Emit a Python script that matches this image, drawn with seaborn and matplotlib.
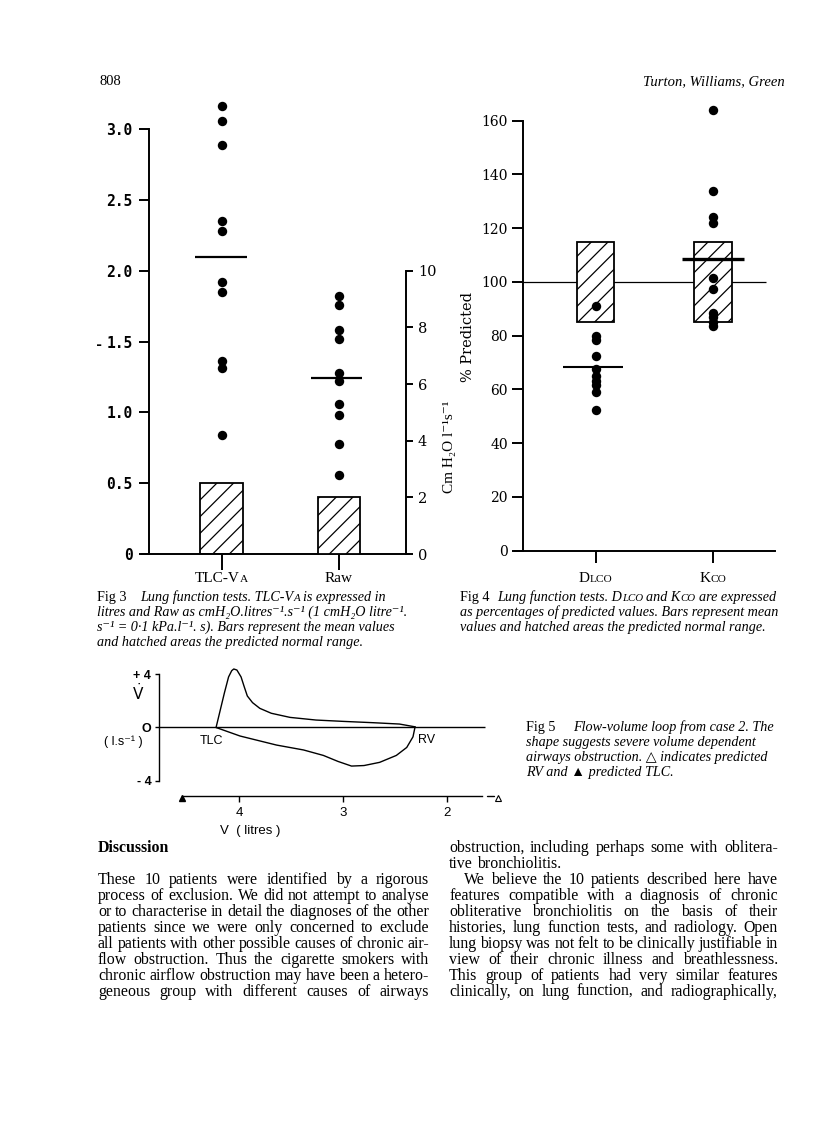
import matplotlib
matplotlib.use("Agg")
import matplotlib.pyplot as plt
import matplotlib.transforms as mtransforms
import pandas as pd
import seaborn as sns

W, H = 816, 1121

# Fig 3 - TLC-VA in litres (left axis), Raw in cmH2O/l/s (right axis)
tlc_va = [3.16, 3.06, 2.89, 2.35, 2.28, 1.92, 1.85, 1.36, 1.31, 0.84]
raw = [9.1, 8.8, 7.9, 7.6, 6.4, 6.1, 5.3, 4.9, 3.9, 2.8]
tlc_va_mean = 2.1
raw_mean = 6.2
tlc_va_normal = 0.5
raw_normal = 2.0
tlc_ticks = [0, 0.5, 1.0, 1.5, 2.0, 2.5, 3.0]
tlc_ticklabels = ['0', '0.5', '1.0', '1.5', '2.0', '2.5', '3.0']
raw_ticks = [0, 2, 4, 6, 8, 10]

# Fig 4 - % predicted
dlco = [91, 80, 78.5, 72.5, 67.5, 65, 63, 61.5, 59, 52.5]
kco = [164, 134, 124, 122, 101.5, 97.5, 88.5, 87, 85, 83.5]
dlco_mean = 68.5
kco_mean = 108.5
normal_low, normal_high = 85, 115
pct_ticks = [0, 20, 40, 60, 80, 100, 120, 140, 160]

# Fig 5 - flow-volume loop (volume in litres, flow in l/s)
exp_volume = [4.22, 4.18, 4.14, 4.10, 4.07, 4.05, 4.02, 3.98, 3.95, 3.92,
              3.87, 3.80, 3.69, 3.51, 3.26, 3.00, 2.71, 2.46, 2.31]
exp_flow = [0.0, 1.3, 2.6, 3.8, 4.27, 4.4, 4.32, 3.8, 3.07, 2.37,
            1.87, 1.44, 1.07, 0.76, 0.56, 0.46, 0.36, 0.26, 0.05]
insp_volume = [4.22, 3.99, 3.64, 3.38, 3.19, 3.05, 2.92, 2.80, 2.65, 2.49, 2.39, 2.33, 2.31]
insp_flow = [0.0, -0.64, -1.32, -1.69, -2.1, -2.55, -2.9, -2.86, -2.62, -2.1, -1.5, -0.7, 0.05]
pred_tlc = 4.55
pred_rv = 1.51
vol_ticks = [4, 3, 2]

body_left = [
    "These 10 patients were identified by a rigorous",
    "process of exclusion. We did not attempt to analyse",
    "or to characterise in detail the diagnoses of the other",
    "patients since we were only concerned to exclude",
    "all patients with other possible causes of chronic air-",
    "flow obstruction. Thus the cigarette smokers with",
    "chronic airflow obstruction may have been a hetero-",
    "geneous group with different causes of airways",
]
body_right = [
    "obstruction, including perhaps some with oblitera-",
    "tive bronchiolitis.",
    "We believe the 10 patients described here have",
    "features compatible with a diagnosis of chronic",
    "obliterative bronchiolitis on the basis of their",
    "histories, lung function tests, and radiology. Open",
    "lung biopsy was not felt to be clinically justifiable in",
    "view of their chronic illness and breathlessness.",
    "This group of patients had very similar features",
    "clinically, on lung function, and radiographically,",
]
# first caption lines are split so the small capitals can be drawn smaller
cap3_first = [("Lung function tests. TLC-V", 0), ("A", 1), ("is expressed in", 2)]
cap3 = ["litres and Raw as cmH\u2082O.litres\u207b\u00b9.s\u207b\u00b9 (1 cmH\u2082O litre\u207b\u00b9.",
        "s\u207b\u00b9 = 0\u00b71 kPa.l\u207b\u00b9. s). Bars represent the mean values",
        "and hatched areas the predicted normal range."]
cap4_first = [("Lung function tests. D", 0), ("LCO", 1), ("and K", 2), ("CO", 1),
              ("are expressed", 2)]
cap4 = ["as percentages of predicted values. Bars represent mean",
        "values and hatched areas the predicted normal range."]
cap5 = ["Flow-volume loop from case 2. The",
        "shape suggests severe volume dependent",
        "airways obstruction. \u25b3 indicates predicted",
        "RV and \u25b2 predicted TLC."]

sns.set_theme(style="white")
plt.rcParams['font.family'] = ['Liberation Serif', 'DejaVu Serif', 'DejaVu Sans']
plt.rcParams.update({'text.color': 'black', 'axes.edgecolor': 'black',
                     'xtick.color': 'black', 'ytick.color': 'black',
                     'hatch.color': 'black', 'hatch.linewidth': 0.9,
                     'mathtext.fontset': 'dejavusans'})

fig = plt.figure(figsize=(W / 100, H / 100), dpi=100)
fig.patch.set_facecolor('white')
renderer = fig.canvas.get_renderer()
ident = mtransforms.IdentityTransform()

SERIF = ['Liberation Serif', 'DejaVu Serif', 'DejaVu Sans']
SANS = ['Liberation Sans', 'DejaVu Sans']


def add_box(x0, y0, x1, y1):
    ax = fig.add_axes([x0 / W, 1 - y1 / H, (x1 - x0) / W, (y1 - y0) / H])
    ax.patch.set_alpha(0)
    return ax


def put(px, py, s, **kw):
    return fig.text(px, H - py, s, transform=ident, **kw)


def width_of(s, **kw):
    t = put(0, 0, s, **kw)
    w = t.get_window_extent(renderer).width
    t.remove()
    return w


def space_of(**kw):
    return width_of('a a', **kw) - width_of('aa', **kw)


def text_line(line, x0, x1, py, justify, **kw):
    words = line.split()
    ws = [width_of(w, **kw) for w in words]
    if justify and len(words) > 1:
        gap = (x1 - x0 - sum(ws)) / (len(words) - 1)
    else:
        gap = space_of(**kw)
    x = x0
    for w, wd in zip(words, ws):
        put(x, py, w, va='baseline', **kw)
        x += wd + gap


def mixed_line(segs, x0, py, size, small, **kw):
    # kind 0: normal, 1: small caps glued to previous, 2: normal after a space
    x = x0
    sp = space_of(fontsize=size, **kw)
    for text, kind in segs:
        fs = small if kind == 1 else size
        if kind == 2:
            x += sp
        put(x, py, text, fontsize=fs, va='baseline', **kw)
        x += width_of(text, fontsize=fs, **kw)


def cat_label(ax, xpos, py, parts, family=SERIF):
    cx = ax.transData.transform((xpos, 0))[0]
    ws = [width_of(t, fontsize=s, family=family) for t, s in parts]
    x = cx - sum(ws) / 2
    for (t, s), w in zip(parts, ws):
        put(x, py, t, fontsize=s, family=family, va='baseline')
        x += w


def hatched_bar(ax, x, height, bottom=0, width=0.36):
    ax.bar(x, height, bottom=bottom, width=width, facecolor='white',
           edgecolor='black', hatch='//', linewidth=1.3, zorder=2)


# ---------------- Fig 3 ----------------
ax3 = add_box(142, 100, 409, 554)
hatched_bar(ax3, 0, tlc_va_normal, width=0.364)
sns.scatterplot(data=pd.DataFrame({'pos': 0, 'v': tlc_va}), x='pos', y='v', ax=ax3,
                s=46, color='black', linewidth=0, zorder=4, legend=False)
ax3.hlines(tlc_va_mean, -0.23, 0.22, color='black', lw=1.6, zorder=5)
ax3.set_xlim(-0.679, 1.597)
ax3.set_ylim(0, 3.205)
ax3.set_xlabel('')
ax3.set_ylabel('')
for s in ['top', 'right']:
    ax3.spines[s].set_visible(False)
ax3.spines['left'].set_position(('data', -0.62))
ax3.spines['left'].set_bounds(0, 3.0)
for s in ['left', 'bottom']:
    ax3.spines[s].set_linewidth(1.4)
ax3.set_yticks(tlc_ticks, tlc_ticklabels)
ax3.set_xticks([0, 1], ['', ''])
ax3.tick_params(axis='y', direction='out', length=7, width=1.4, pad=4.8, left=True)
ax3.tick_params(axis='x', direction='out', length=11.5, width=1.4, bottom=True)
for lbl in ax3.get_yticklabels():
    lbl.set_fontfamily('DejaVu Sans Mono')
    lbl.set_fontweight('bold')
    lbl.set_fontsize(10.5)

ax3r = ax3.twinx()
hatched_bar(ax3r, 1, raw_normal, width=0.364)
sns.scatterplot(data=pd.DataFrame({'pos': 1, 'v': raw}), x='pos', y='v', ax=ax3r,
                s=46, color='black', linewidth=0, zorder=4, legend=False)
ax3r.hlines(raw_mean, 0.76, 1.2, color='black', lw=1.6, zorder=5)
ax3r.set_ylim(0, 3.205 * 5)
ax3r.set_xlim(-0.679, 1.597)
ax3r.set_xlabel('')
ax3r.set_ylabel('')
for s in ['top', 'left', 'bottom']:
    ax3r.spines[s].set_visible(False)
ax3r.spines['right'].set_position(('data', 1.571))
ax3r.spines['right'].set_bounds(0, 10)
ax3r.spines['right'].set_linewidth(1.4)
ax3r.set_yticks(raw_ticks, [str(t) for t in raw_ticks])
ax3r.tick_params(axis='y', direction='out', length=5, width=1.4, pad=3.6,
                 labelsize=10.5, right=True)
for lbl in ax3r.get_yticklabels():
    lbl.set_fontfamily('DejaVu Serif')
put(450, 447, "Cm H\u2082O l\u207b\u00b9s\u207b\u00b9", rotation=90, ha='center', va='center',
    fontsize=11, family=SERIF)
put(99, 345, "-", fontsize=10, family='DejaVu Sans Mono', fontweight='bold',
    ha='center', va='center')

cat_label(ax3, 0, 582, [("TLC-V", 11), ("A", 8.2)])
cat_label(ax3, 1, 582, [("Raw", 11)])

# ---------------- Fig 4 ----------------
ax4 = add_box(515, 100, 775, 550.7)
ax4.hlines(100, -0.621, 1.448, color='black', lw=0.9, zorder=1)
hatched_bar(ax4, 0, normal_high - normal_low, bottom=normal_low, width=0.32)
hatched_bar(ax4, 1, normal_high - normal_low, bottom=normal_low, width=0.32)
df4 = pd.DataFrame({'pos': [0] * len(dlco) + [1] * len(kco), 'v': dlco + kco})
sns.scatterplot(data=df4, x='pos', y='v', ax=ax4, s=46, color='black',
                linewidth=0, zorder=4, legend=False)
ax4.hlines(dlco_mean, -0.28, 0.23, color='black', lw=1.5, zorder=5)
ax4.hlines(kco_mean, 0.73, 1.26, color='black', lw=2.4, zorder=5)
ax4.set_xlim(-0.686, 1.525)
ax4.set_ylim(0, 167.7)
ax4.set_xlabel('')
ax4.set_ylabel('')
for s in ['top', 'right']:
    ax4.spines[s].set_visible(False)
ax4.spines['left'].set_position(('data', -0.621))
ax4.spines['left'].set_bounds(0, 160)
for s in ['left', 'bottom']:
    ax4.spines[s].set_linewidth(1.4)
ax4.set_yticks(pct_ticks, [str(t) for t in pct_ticks])
ax4.set_xticks([0, 1], ['', ''])
ax4.tick_params(axis='y', direction='out', length=8, width=1.4, pad=2.5,
                labelsize=10, left=True)
ax4.tick_params(axis='x', direction='out', length=8.6, width=1.4, bottom=True)
for lbl in ax4.get_yticklabels():
    lbl.set_fontfamily('DejaVu Serif')
put(468, 337, "% Predicted", rotation=90, ha='center', va='center',
    fontsize=10.5, family=['DejaVu Serif'])
cat_label(ax4, 0, 582, [("D", 11), ("LCO", 8.2)])
cat_label(ax4, 1, 582, [("K", 11), ("CO", 8.2)])

# ---------------- Fig 5 ----------------
ax5 = add_box(150, 660, 505, 800)
ax5.hlines(0, 4.768, 1.64, color='black', lw=1.0)
sns.lineplot(x=exp_volume, y=exp_flow, sort=False, estimator=None, ax=ax5,
             color='black', lw=1.0)
sns.lineplot(x=insp_volume, y=insp_flow, sort=False, estimator=None, ax=ax5,
             color='black', lw=1.0)
ax5.plot([1.62, 1.555], [-5.15, -5.15], color='black', lw=1.0, clip_on=False)
ax5.plot(pred_tlc, -5.32, marker='^', ms=4.5, color='black', clip_on=False)
ax5.plot(pred_rv, -5.3, marker='^', ms=4.5, mfc='white', mec='black', mew=0.8,
         clip_on=False)
ax5.set_xlim(4.854, 1.447)
ax5.set_ylim(-5.451, 5.075)
ax5.set_xlabel('')
ax5.set_ylabel('')
for s in ['top', 'right']:
    ax5.spines[s].set_visible(False)
ax5.spines['left'].set_position(('data', 4.768))
ax5.spines['left'].set_bounds(-4, 4)
ax5.spines['bottom'].set_position(('data', -5.15))
ax5.spines['bottom'].set_bounds(1.67, pred_tlc)
for s in ['left', 'bottom']:
    ax5.spines[s].set_linewidth(1.0)
ax5.set_yticks([-4, 0, 4], ['- 4', 'O', '+ 4'])
ax5.yaxis.get_major_ticks()[1].tick1line.set_visible(False)
ax5.set_xticks(vol_ticks, [str(t) for t in vol_ticks])
ax5.tick_params(axis='y', direction='out', length=3, width=1.0, pad=2.5,
                labelsize=9, left=True)
ax5.tick_params(axis='x', direction='out', length=4, width=1.0, pad=4,
                labelsize=9.5, bottom=True)
for lbl in ax5.get_yticklabels() + ax5.get_xticklabels():
    lbl.set_fontfamily(SANS)
for lbl in ax5.get_yticklabels():
    lbl.set_fontweight('bold')
put(138, 693, r"$\dot{\mathrm{V}}$", fontsize=11, ha='center', va='center')
put(123, 742, "( l.s\u207b\u00b9 )", fontsize=9, family=SANS, ha='center', va='center')
put(211, 741, "TLC", fontsize=9, family=SANS, ha='center', va='center')
put(427, 740, "RV", fontsize=9, family=SANS, ha='center', va='center')
put(250, 831, "V  ( litres )", fontsize=9.5, family=SANS, ha='center', va='center')

# ---------------- captions ----------------
CAP = 10.2
cap_kw = dict(fontsize=CAP, family=SERIF, style='italic')
put(97, 601, "Fig 3", fontsize=CAP, family=SERIF, va='baseline')
mixed_line(cap3_first, 140, 601, CAP, 7.8, family=SERIF, style='italic')
for i, line in enumerate(cap3):
    put(97, 616 + 15 * i, line, va='baseline', **cap_kw)

put(460, 601, "Fig 4", fontsize=CAP, family=SERIF, va='baseline')
mixed_line(cap4_first, 497, 601, CAP, 7.8, family=SERIF, style='italic')
for i, line in enumerate(cap4):
    put(460, 616 + 15 * i, line, va='baseline', **cap_kw)

put(526, 731, "Fig 5", fontsize=CAP, family=SERIF, va='baseline')
put(573, 731, cap5[0], va='baseline', **cap_kw)
for i, line in enumerate(cap5[1:]):
    put(526, 746 + 15 * i, line, va='baseline', **cap_kw)

# ---------------- header and body ----------------
put(100, 85, "808", fontsize=10.5, family=SERIF, va='baseline')
put(785, 85, "Turton, Williams, Green", fontsize=10.5, family=SERIF,
    style='italic', ha='right', va='baseline')

# body size chosen so the fullest justified line only just fits
fs0 = 10.0
fits = [(429 - 98) / width_of(l, fontsize=fs0, family=SERIF) for l in body_left]
fits += [(778 - (464 if i == 2 else 449)) / width_of(l, fontsize=fs0, family=SERIF)
         for i, l in enumerate(body_right) if i != 1]
BODY = fs0 * min(fits) * 1.015

put(98, 852, "Discussion", fontsize=BODY, family=SERIF, fontweight='bold', va='baseline')
body_kw = dict(fontsize=BODY, family=SERIF)
for i, line in enumerate(body_left):
    text_line(line, 98, 429, 883.5 + 16 * i, True, **body_kw)
for i, line in enumerate(body_right):
    x0 = 464 if i == 2 else 449
    justify = i != 1
    py = 852 + 16 * i if i < 2 else 883.5 + 16 * (i - 2)
    text_line(line, x0, 778, py, justify, **body_kw)

fig.savefig("out.png", dpi=100, facecolor='white')
